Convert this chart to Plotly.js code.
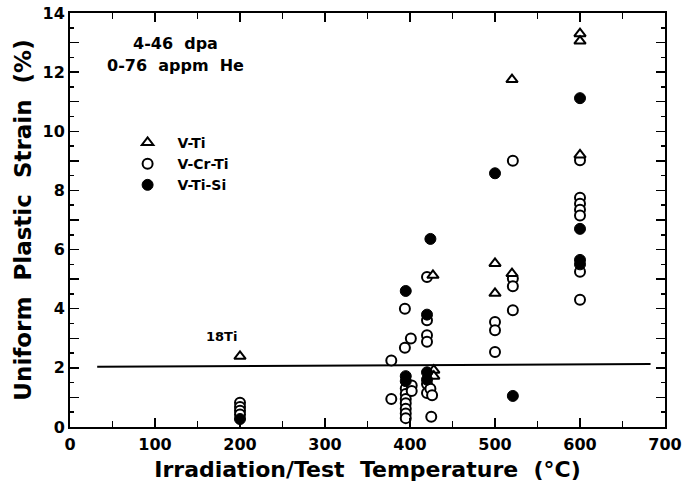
<!DOCTYPE html>
<html>
<head>
<meta charset="utf-8">
<script src="https://cdn.plot.ly/plotly-3.0.1.min.js"></script>
<style>
html,body{margin:0;padding:0;background:#fff;}
#chart{width:682px;height:484px;}
</style>
</head>
<body>
<div id="chart"></div>
<script>
// V-Ti (open triangles)
const vtiX = [200, 428, 428, 427, 500, 500, 520, 520, 600, 600, 600];
const vtiY = [2.39, 1.92, 1.72, 5.13, 5.53, 4.52, 11.75, 5.19, 13.3, 13.05, 9.2];

// V-Cr-Ti (open circles)
const vcrtiX = [200, 200, 200, 200,
  378, 378, 394, 394, 401,
  395, 395, 395, 395, 395, 395, 395, 402, 402,
  420, 420, 420, 420, 420, 420, 424, 426, 425,
  500, 500, 500,
  521, 521, 521, 521,
  600, 600, 600, 600, 600, 600, 600];
const vcrtiY = [0.82, 0.68, 0.55, 0.42,
  2.25, 0.95, 4.0, 2.68, 2.99,
  1.3, 1.12, 0.95, 0.8, 0.62, 0.46, 0.3, 1.4, 1.22,
  5.07, 3.61, 3.1, 2.88, 1.45, 1.15, 1.29, 1.07, 0.35,
  3.55, 3.27, 2.54,
  9.0, 5.02, 4.76, 3.95,
  9.02, 7.75, 7.55, 7.35, 7.15, 5.25, 4.3];

// V-Ti-Si (filled circles)
const vtisiX = [200, 395, 395, 395, 424, 420, 420, 420, 500, 521, 600, 600, 600, 600];
const vtisiY = [0.27, 4.6, 1.72, 1.55, 6.36, 3.8, 1.85, 1.6, 8.58, 1.05, 11.12, 6.7, 5.65, 5.5];

// 2% reference line
const refX = [32, 683];
const refY = [2.04, 2.13];

const xTicks = [0, 100, 200, 300, 400, 500, 600, 700];
const yTickVals = [0,1,2,3,4,5,6,7,8,9,10,11,12,13,14];
const yTickText = ['0','','2','','4','','6','','8','','10','','12','','14'];

const FONT = 'DejaVu Sans';

const traces = [
  {x: refX, y: refY, mode: 'lines', line: {color: '#000', width: 2}, showlegend: false, hoverinfo: 'skip'},
  {x: vcrtiX, y: vcrtiY, mode: 'markers', name: 'V-Cr-Ti', legendrank: 2,
   marker: {symbol: 'circle', size: 10, color: '#fff', line: {color: '#000', width: 2}}},
  {x: vtiX, y: vtiY, mode: 'markers', name: 'V-Ti', legendrank: 1,
   marker: {symbol: 'triangle-up', size: 10, color: '#fff', line: {color: '#000', width: 2}}},
  {x: vtisiX, y: vtisiY, mode: 'markers', name: 'V-Ti-Si', legendrank: 3,
   marker: {symbol: 'circle', size: 11, color: '#000', line: {color: '#000', width: 1}}}
];

const axisCommon = {
  showgrid: false, zeroline: false, showline: true, linecolor: '#000', linewidth: 2,
  mirror: 'ticks', ticks: 'inside', tickcolor: '#000', tickwidth: 1.5,
  tickfont: {family: FONT, size: 16, color: '#000', weight: 'bold'}
};

const layout = {
  width: 682, height: 484,
  margin: {l: 70, r: 17, t: 13, b: 57},
  paper_bgcolor: '#fff', plot_bgcolor: '#fff',
  font: {family: FONT, color: '#000'},
  xaxis: Object.assign({}, axisCommon, {
    range: [0, 700], tickmode: 'array', tickvals: xTicks, ticklen: 9,
    ticklabelstandoff: 2,
    minor: {dtick: 50, ticklen: 6, tickcolor: '#000', ticks: 'inside', tickwidth: 1.5},
    title: {text: 'Irradiation/Test\u00a0 Temperature\u00a0 (°C)', standoff: 8,
            font: {family: FONT, size: 22, color: '#000', weight: 'bold'}}
  }),
  yaxis: Object.assign({}, axisCommon, {
    range: [0, 14], tickmode: 'array', tickvals: yTickVals, ticktext: yTickText, ticklen: 9,
    ticklabelstandoff: 0,
    minor: {dtick: 0.5, ticklen: 4, tickcolor: '#000', ticks: 'inside', tickwidth: 1.5},
    title: {text: 'Uniform\u00a0 Plastic\u00a0 Strain\u00a0 (%)', standoff: 4,
            font: {family: FONT, size: 23, color: '#000', weight: 'bold'}}
  }),
  legend: {
    x: 0.08, y: 0.725, xanchor: 'left', yanchor: 'top',
    bgcolor: 'rgba(0,0,0,0)', borderwidth: 0, itemwidth: 50,
    traceorder: 'normal',
    font: {family: FONT, size: 14, color: '#000', weight: 'bold'}
  },
  annotations: [
    {xref: 'paper', yref: 'paper', x: (175-70)/595, y: (426.5-44)/413.2, text: '4-46\u00a0 dpa',
     xanchor: 'center', yanchor: 'middle',
     showarrow: false, font: {family: FONT, size: 16, color: '#000', weight: 'bold'}},
    {xref: 'paper', yref: 'paper', x: (175-70)/595, y: (426.5-66)/413.2, text: '0-76\u00a0 appm\u00a0 He',
     xanchor: 'center', yanchor: 'middle',
     showarrow: false, font: {family: FONT, size: 16, color: '#000', weight: 'bold'}},
    {xref: 'x', yref: 'y', x: 178, y: 3.05, text: '18Ti',
     xanchor: 'center', yanchor: 'middle',
     showarrow: false, font: {family: FONT, size: 13, color: '#000', weight: 'bold'}}
  ]
};

Plotly.newPlot('chart', traces, layout, {staticPlot: true, displayModeBar: false});
</script>
</body>
</html>
